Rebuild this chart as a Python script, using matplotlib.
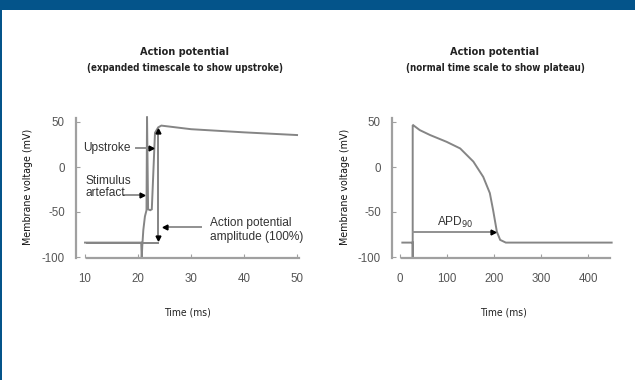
import matplotlib.pyplot as plt
from matplotlib.patches import Rectangle

plt.rcParams['axes.unicode_minus'] = False

# fonts
narrow = dict(family='DejaVu Sans', stretch='condensed')
regular = ['Liberation Sans', 'DejaVu Sans']

# left panel: upstroke, expanded timescale (ms, mV)
t_up = [10, 20.6, 20.7, 20.8, 21.0, 21.3, 21.6, 21.7, 21.9, 22.3, 22.6, 23.2, 23.8, 24.4, 30, 40, 50]
v_up = [-84, -84, -101, -88, -70, -55, -48, 56, -47, -48, -47, 38, 44, 46, 42, 38.5, 35.5]
ref_t = [10.3, 23.8]
ref_v = [-84, -84]
amp_t = 23.8
amp_top, amp_bot = 40, -79

# right panel: whole action potential, normal timescale
t_ap = [5, 27, 27, 27, 28, 42, 64, 99, 128, 156, 177, 191, 198, 206, 213, 225, 450]
v_ap = [-84, -84, -101, 46, 46.5, 41, 35.5, 28, 20.6, 6, -11, -29, -48, -72, -81, -84, -84]
apd_t = [27, 197]
apd_v = -72

W, H = 635, 380
fig = plt.figure(figsize=(W / 100, H / 100), dpi=100)

# header band and left border
fig.patches.append(Rectangle((0, 370.5 / H), 1, 9.5 / H, transform=fig.transFigure,
                             facecolor='#04548a', edgecolor='none'))
fig.patches.append(Rectangle((0, 0), 1.6 / W, 1, transform=fig.transFigure,
                             facecolor='#04548a', edgecolor='none'))

def px_axes(x0, x1, y0, y1):
    # axes from pixel box (top-left origin)
    return fig.add_axes([x0 / W, 1 - y1 / H, (x1 - x0) / W, (y1 - y0) / H])

trace = dict(color='#858585', lw=1.4, solid_joinstyle='miter')
axis_col = '#a0a0a0'

def style(ax, xticks, xb):
    for s in ['top', 'right']:
        ax.spines[s].set_visible(False)
    for s in ['left', 'bottom']:
        ax.spines[s].set_color(axis_col)
        ax.spines[s].set_linewidth(1.6)
    ax.spines['left'].set_bounds(-101, 55)
    ax.spines['bottom'].set_bounds(*xb)
    ax.set_yticks([-100, -50, 0, 50])
    ax.set_xticks(xticks)
    ax.tick_params(direction='in', length=3, color=axis_col, labelcolor='#555555',
                   labelsize=8.3)
    ax.tick_params(axis='y', pad=8)
    ax.tick_params(axis='x', pad=11)
    for lab in ax.get_xticklabels() + ax.get_yticklabels():
        lab.set_family(regular)
    ax.set_ylabel('Membrane voltage (mV)', fontsize=7.7, color='#111111', **narrow)
    ax.set_xlabel('Time (ms)', fontsize=7.5, color='#222222', labelpad=16, **narrow)
    ax.yaxis.set_label_coords(-0.19, 0.5)

def pointer(ax, x0, y0, x1, y1, mk):
    ax.plot([x0, x1], [y0, y1], color='#909090', lw=1.4)
    ax.plot([x1], [y1], marker=mk, color='black', ms=3.5, ls='none')

# ---- left panel
ax1 = px_axes(76, 299.7, 115.7, 257.9)
ax1.set_xlim(8.3, 50.5)
ax1.set_ylim(-101, 57)
ax1.plot(ref_t, ref_v, **trace)
ax1.plot(t_up, v_up, **trace)
ax1.plot([amp_t, amp_t], [amp_top, amp_bot], color='#858585', lw=1.4)
ax1.plot([amp_t], [amp_top], marker='^', color='black', ms=3.5)
ax1.plot([amp_t], [amp_bot], marker='v', color='black', ms=3.5)
style(ax1, [10, 20, 30, 40, 50], (10.3, 50.3))

note = dict(family=regular, fontsize=8.6, color='#333333', va='center')
ax1.text(9.6, 21, 'Upstroke', **note)
pointer(ax1, 19.6, 21, 22.5, 21, '>')
ax1.text(10.0, -22, 'Stimulus\nartefact', linespacing=1.05, **note)
pointer(ax1, 17.3, -31, 20.7, -31, '>')
ax1.text(33.6, -70, 'Action potential\namplitude (100%)', linespacing=1.15, **note)
pointer(ax1, 31.8, -67, 25.0, -67, '<')

title = dict(weight='bold', color='#222222', ha='center', va='center', **narrow)
fig.text(185 / W, 1 - 52 / H, 'Action potential', fontsize=7.8, **title)
fig.text(185 / W, 1 - 68 / H, '(expanded timescale to show upstroke)', fontsize=7.0, **title)

# ---- right panel
ax2 = px_axes(392, 614, 115.7, 257.9)
ax2.set_xlim(-17, 455)
ax2.set_ylim(-101, 57)
ax2.plot(t_ap, v_ap, **trace)
pointer(ax2, apd_t[0], apd_v, apd_t[1], apd_v, '>')
ax2.text(79, -62, 'APD$_{90}$', **note)
style(ax2, [0, 100, 200, 300, 400], (4, 447))

fig.text(495 / W, 1 - 52 / H, 'Action potential', fontsize=7.8, **title)
fig.text(495 / W, 1 - 68 / H, '(normal time scale to show plateau)', fontsize=7.0, **title)

fig.savefig('out.png', dpi=100)
